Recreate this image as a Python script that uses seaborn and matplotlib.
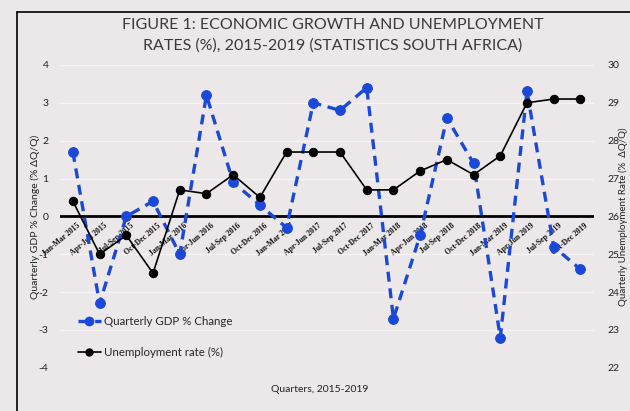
import matplotlib
matplotlib.use("Agg")
import matplotlib.pyplot as plt
import seaborn as sns
import pandas as pd
from matplotlib.lines import Line2D

quarters = ["Jan-Mar 2015", "Apr-Jun 2015", "Jul-Sep 2015", "Oct-Dec 2015",
            "Jan-Mar 2016", "Apr-Jun 2016", "Jul-Sep 2016", "Oct-Dec 2016",
            "Jan-Mar 2017", "Apr-Jun 2017", "Jul-Sep 2017", "Oct-Dec 2017",
            "Jan-Mar 2018", "Apr-Jun 2018", "Jul-Sep 2018", "Oct-Dec 2018",
            "Jan-Mar 2019", "Apr-Jun 2019", "Jul-Sep 2019", "Oct-Dec 2019"]
gdp_change = [1.7, -2.3, 0.0, 0.4, -1.0, 3.2, 0.9, 0.3, -0.3, 3.0,
              2.8, 3.4, -2.7, -0.5, 2.6, 1.4, -3.2, 3.3, -0.8, -1.4]
unemployment = [26.4, 25.0, 25.5, 24.5, 26.7, 26.6, 27.1, 26.5, 27.7, 27.7,
                27.7, 26.7, 26.7, 27.2, 27.5, 27.1, 27.6, 29.0, 29.1, 29.1]
left_ticks = [-4, -3, -2, -1, 0, 1, 2, 3, 4]
right_ticks = [22, 23, 24, 25, 26, 27, 28, 29, 30]

df = pd.DataFrame({"idx": range(len(quarters)), "quarter": quarters,
                   "gdp": gdp_change, "unemp": unemployment})

sns.set_theme(style="white")
plt.rcParams['font.family'] = ['Lato', 'DejaVu Sans']

bg = "#ece7e9"
blue = "#1a48d8"
fig = plt.figure(figsize=(6.3, 4.11), dpi=100, facecolor=bg)
ax = fig.add_axes([0.0945, 0.105, 0.848, 0.737])
ax.set_facecolor(bg)
ax2 = ax.twinx()
ax2.set_facecolor("none")

for v in left_ticks:
    if v != 0:
        ax.axhline(v, color="#f7f4f5", lw=1.0, zorder=0)
ax.axhline(0, color="black", lw=2.0, zorder=1)

sns.lineplot(data=df, x="idx", y="gdp", ax=ax, color=blue, lw=2.4,
             marker="o", markersize=7, markeredgecolor=blue,
             linestyle=(0, (3, 2)), zorder=3)
sns.lineplot(data=df, x="idx", y="unemp", ax=ax2, color="black", lw=1.2,
             marker="o", markersize=6, markeredgecolor="black", zorder=3)

ax.set_xlim(-0.5, 19.5)
ax.set_ylim(-4, 4)
ax2.set_ylim(22, 30)
ax.set_yticks(left_ticks)
ax.set_yticklabels([str(t) for t in left_ticks], fontsize=7.5, color="#222222")
ax2.set_yticks(right_ticks)
ax2.set_yticklabels([str(t) for t in right_ticks], fontsize=7.5, color="#222222")
ax.tick_params(axis="y", length=0, pad=8)
ax2.tick_params(axis="y", length=0, pad=10)
ax.set_xticks([])
ax.set_xlabel("")
ax2.set_xlabel("")
for a in (ax, ax2):
    for s in a.spines.values():
        s.set_visible(False)

ax.set_ylabel("Quarterly GDP % Change (% \u0394Q/Q)", fontsize=7.5, color="#222222", labelpad=-1)
ax2.set_ylabel("Quarterly Unemployment Rate (%  \u0394Q/Q)", fontsize=7, color="#222222", labelpad=-1)

for i, q in enumerate(quarters):
    ax.annotate(q, xy=(i, 0), xycoords="data", xytext=(3, -4),
                textcoords="offset points", ha="right", va="top", rotation=40,
                rotation_mode="anchor", fontsize=5.6, fontweight="bold",
                family="Liberation Serif", color="#111111", zorder=2)

fig.text(0.528, 0.94, "FIGURE 1: ECONOMIC GROWTH AND UNEMPLOYMENT",
         ha="center", va="center", fontsize=11.5, color="#3a3a3a")
fig.text(0.528, 0.888, "RATES (%), 2015-2019 (STATISTICS SOUTH AFRICA)",
         ha="center", va="center", fontsize=11.5, color="#3a3a3a")
fig.text(0.508, 0.052, "Quarters, 2015-2019", ha="center", va="center",
         fontsize=7.5, color="#222222")

handles = [Line2D([], [], color=blue, lw=2.4, linestyle=(0, (3, 2)), marker="o",
                  markersize=6),
           Line2D([], [], color="black", lw=1.2, marker="o", markersize=5)]
ax.legend(handles, ["Quarterly GDP % Change", "Unemployment rate (%)"],
          loc="upper left", bbox_to_anchor=(0.015, 0.205), frameon=False,
          fontsize=8.3, handlelength=2.0, labelspacing=1.75, handletextpad=0.3)

fig.add_artist(Line2D([0.027, 0.027], [0, 0.971], transform=fig.transFigure,
                      color="black", lw=1.2))
fig.add_artist(Line2D([0.027, 1.0], [0.971, 0.971], transform=fig.transFigure,
                      color="black", lw=1.2))

fig.savefig("out.png", dpi=100, facecolor=bg)
